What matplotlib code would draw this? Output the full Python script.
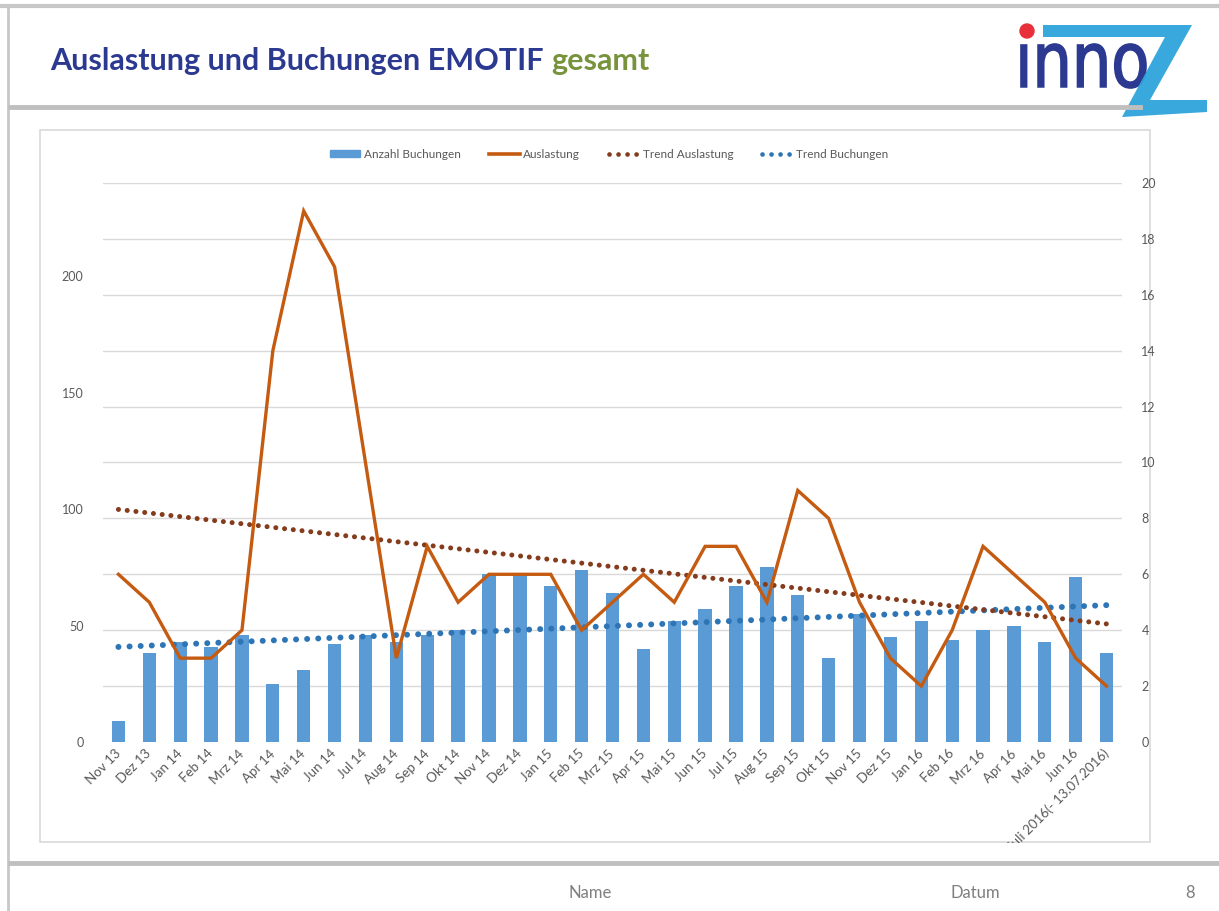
import numpy as np
import matplotlib
matplotlib.use('Agg')
from matplotlib import pyplot
from matplotlib.lines import Line2D
from matplotlib.patches import Rectangle, Polygon, Circle, PathPatch
from matplotlib.textpath import TextPath
from matplotlib.font_manager import FontProperties
from matplotlib.transforms import Affine2D

# Data #
months = ['Nov 13', 'Dez 13', 'Jan 14', 'Feb 14', 'Mrz 14', 'Apr 14', 'Mai 14', 'Jun 14',
          'Jul 14', 'Aug 14', 'Sep 14', 'Okt 14', 'Nov 14', 'Dez 14', 'Jan 15', 'Feb 15',
          'Mrz 15', 'Apr 15', 'Mai 15', 'Jun 15', 'Jul 15', 'Aug 15', 'Sep 15', 'Okt 15',
          'Nov 15', 'Dez 15', 'Jan 16', 'Feb 16', 'Mrz 16', 'Apr 16', 'Mai 16', 'Jun 16',
          'Juli 2016(- 13.07.2016)']
buchungen  = [9, 38, 43, 41, 46, 25, 31, 42, 46, 43, 46, 48, 72, 72, 67, 74, 64,
              40, 52, 57, 67, 75, 63, 36, 55, 45, 52, 44, 48, 50, 43, 71, 38]
auslastung = [6, 5, 3, 3, 4, 14, 19, 17, 10, 3, 7, 5, 6, 6, 6, 4, 5,
              6, 5, 7, 7, 5, 9, 8, 5, 3, 2, 4, 7, 6, 5, 3, 2]
left_ticks  = [0, 50, 100, 150, 200]
right_ticks = list(range(0, 21, 2))

# Colors #
bar_color   = '#5B9BD5'
line_color  = '#C55A11'
trend_brown = '#843C1C'
trend_blue  = '#2E75B6'
text_gray   = '#595959'
navy        = '#2B3990'

pyplot.rcParams['font.family'] = ['Lato', 'DejaVu Sans']

################################################################################
fig = pyplot.figure(figsize=(12.19, 9.11), dpi=100)

# Slide decoration in pixel coordinates #
deco = fig.add_axes([0, 0, 1, 1], zorder=0)
deco.set_xlim(0, 1219)
deco.set_ylim(911, 0)
deco.axis('off')
deco.plot([0, 1219], [6, 6], color='#C8C8C8', lw=3)
deco.plot([8, 8], [6, 911], color='#C8C8C8', lw=2)
deco.plot([10, 1140], [107, 107], color='#BFBFBF', lw=3.5)
deco.plot([10, 1219], [863, 863], color='#BFBFBF', lw=3.5)
chart_box = Rectangle((40, 130), 1110, 712, fill=False, edgecolor='#D9D9D9', lw=1.2)
deco.add_patch(chart_box)

# Title #
t1 = deco.text(50, 61, 'Auslastung und Buchungen EMOTIF', color=navy, fontsize=22,
               fontweight='bold', va='center', ha='left')
renderer = fig.canvas.get_renderer()
bb = t1.get_window_extent(renderer)
deco.text(50 + bb.width + 8, 61, 'gesamt', color='#77933C', fontsize=22,
          fontweight='bold', va='center', ha='left')

# Logo #
tp = TextPath((0, 0), '\u0131nno', size=50, prop=FontProperties(family='DejaVu Sans'))
ext = tp.get_extents()
sx = 125.0 / ext.width
sy = 44.0 / ext.height
tr = Affine2D().translate(-ext.x0, -ext.y0).scale(sx, -sy).translate(1021, 88)
deco.add_patch(PathPatch(tr.transform_path(tp), facecolor=navy, edgecolor=navy, lw=1.2))
deco.add_patch(Circle((1027, 31), 7, color='#E8303A'))
z_shape = [(1043, 25), (1192, 25), (1150, 100), (1207, 100), (1207, 112),
           (1122, 117), (1165, 37), (1043, 37)]
deco.add_patch(Polygon(z_shape, closed=True, color='#2EA3DC', lw=0, alpha=0.95))

# Footer #
deco.text(590, 893, 'Name', color='#7F7F7F', fontsize=12, ha='center', va='center')
deco.text(975, 893, 'Datum', color='#7F7F7F', fontsize=12, ha='center', va='center')
deco.text(1190, 893, '8', color='#7F7F7F', fontsize=12, ha='center', va='center')

################################################################################
# Chart #
x = np.arange(len(months))
axes = fig.add_axes([103/1219, 1 - 742/911, 1019/1219, 559/911], zorder=1)
axes.patch.set_visible(False)
axes2 = axes.twinx()
axes2.set_zorder(2)
axes2.patch.set_visible(False)

# Gridlines follow the right axis #
axes.set_ylim(0, 240)
axes2.set_ylim(0, 20)
axes.set_yticks(left_ticks)
axes.set_yticks(np.array(right_ticks) * 12, minor=True)
axes.yaxis.grid(True, which='minor', color='#D9D9D9', lw=1)
axes.set_axisbelow(True)
axes2.set_yticks(right_ticks)

bars = axes.bar(x, buchungen, width=0.43, color=bar_color, zorder=2)
fit_b = np.polyfit(x, buchungen, 1)
trend_b, = axes.plot(x, np.polyval(fit_b, x), color=trend_blue, lw=4.3,
                     linestyle=(0, (0.01, 1.85)), dash_capstyle='round', zorder=3)

line_a, = axes2.plot(x, auslastung, color=line_color, lw=2.4, solid_joinstyle='miter')
fit_a = np.polyfit(x, auslastung, 1)
trend_a, = axes2.plot(x, np.polyval(fit_a, x), color=trend_brown, lw=3.6,
                      linestyle=(0, (0.01, 1.75)), dash_capstyle='round', zorder=1)

axes.set_xlim(-0.5, len(months) - 0.5)
axes.set_xticks(x)
axes.set_xticklabels(months, rotation=45, ha='right', rotation_mode='anchor', va='center')

for a in (axes, axes2):
    for s in a.spines.values(): s.set_visible(False)
    a.tick_params(axis='both', which='both', length=0, colors=text_gray, labelsize=9)
axes.tick_params(axis='x', labelsize=9.6, pad=7)
axes.tick_params(axis='y', pad=14)
axes2.tick_params(axis='y', pad=14)

# Legend #
handles = [Rectangle((0, 0), 1, 1, color=bar_color),
           Line2D([], [], color=line_color, lw=2.6),
           Line2D([], [], color=trend_brown, lw=3.4, linestyle=(0, (0.01, 1.9)), dash_capstyle='round'),
           Line2D([], [], color=trend_blue, lw=3.4, linestyle=(0, (0.01, 1.9)), dash_capstyle='round')]
labels = ['Anzahl Buchungen', 'Auslastung', 'Trend Auslastung', 'Trend Buchungen']
leg = fig.legend(handles, labels, loc='center', bbox_to_anchor=(609/1219, 1 - 154/911),
                 ncol=4, frameon=False, fontsize=8.5, handlelength=2.6,
                 handletextpad=0.3, columnspacing=2.4, handleheight=0.5)
for t in leg.get_texts(): t.set_color(text_gray)

# Chart box cuts the long last label #
mask = fig.add_axes([0, 0, 1, 1], zorder=5)
mask.set_xlim(0, 1219)
mask.set_ylim(911, 0)
mask.axis('off')
mask.add_patch(Rectangle((30, 843), 1130, 16, color='white', lw=0))

fig.savefig('out.png', dpi=100)
pyplot.close(fig)
